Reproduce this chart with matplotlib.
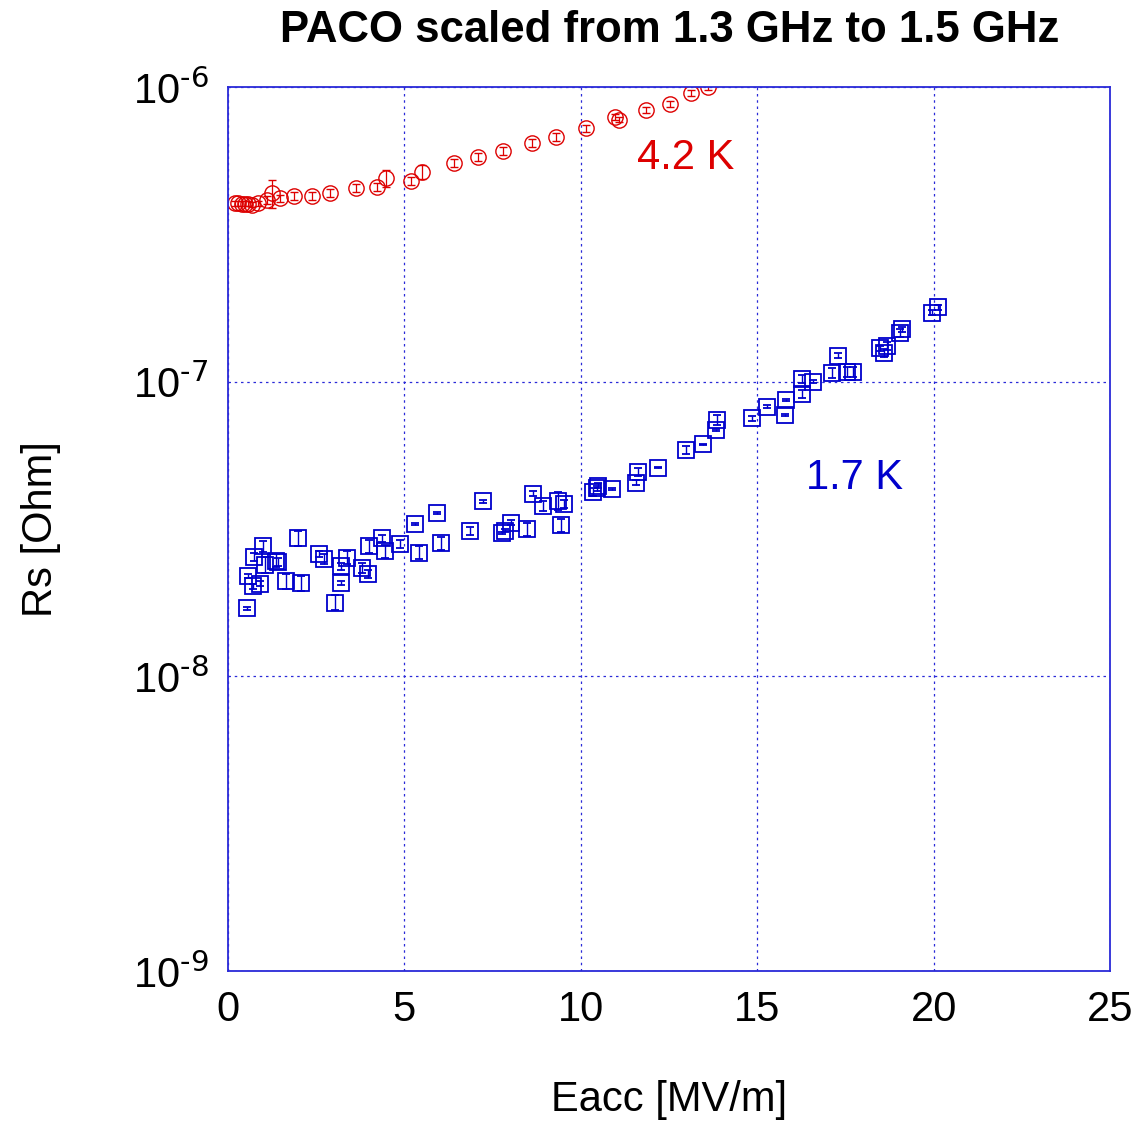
import numpy as np
import matplotlib
matplotlib.use("Agg")
import matplotlib.pyplot as plt

plt.rcParams['font.family'] = ['Liberation Sans', 'DejaVu Sans']
plt.rcParams['mathtext.default'] = 'regular'

# 4.2 K measurement
eacc_42 = [0.20, 0.29, 0.39, 0.48, 0.58, 0.67, 0.86, 1.10, 1.24, 1.47, 1.87, 2.37,
           2.89, 3.63, 4.21, 4.48, 5.19, 5.51, 6.41, 7.08, 7.79, 8.61, 9.29, 10.14,
           10.97, 11.08, 11.85, 12.53, 13.11, 13.60]
rs_42 = [4.03e-7, 4.03e-7, 4.01e-7, 4.01e-7, 4.01e-7, 3.98e-7, 4.03e-7, 4.14e-7,
         4.36e-7, 4.19e-7, 4.27e-7, 4.27e-7, 4.36e-7, 4.55e-7, 4.59e-7, 4.90e-7,
         4.81e-7, 5.16e-7, 5.51e-7, 5.80e-7, 6.07e-7, 6.47e-7, 6.78e-7, 7.24e-7,
         7.91e-7, 7.73e-7, 8.35e-7, 8.76e-7, 9.52e-7, 1.00e-6]
relerr_42 = [0.02, 0.02, 0.02, 0.02, 0.02, 0.02, 0.02, 0.03, 0.11, 0.03, 0.03, 0.03,
             0.03, 0.03, 0.03, 0.065, 0.03, 0.056, 0.03, 0.03, 0.03, 0.03, 0.03, 0.03,
             0.02, 0.02, 0.025, 0.025, 0.025, 0.025]

# 1.7 K measurement
eacc_17 = [0.547, 0.567, 0.709, 0.899, 0.737, 0.992, 1.040, 1.369, 1.417, 1.984,
           1.652, 2.078, 2.579, 2.713, 3.194, 3.381, 3.194, 3.024, 3.807, 3.968,
           3.997, 4.365, 4.442, 4.867, 5.414, 5.292, 6.046, 5.915, 7.219, 6.859,
           7.758, 7.851, 8.013, 8.483, 8.637, 8.920, 9.362, 9.524, 9.430, 10.354,
           10.451, 10.496, 10.876, 11.565, 11.621, 12.197, 12.973, 13.472, 13.832,
           13.869, 14.844, 15.269, 15.808, 15.788, 16.261, 16.261, 16.590, 17.112,
           17.299, 17.537, 17.724, 18.481, 18.594, 18.671, 19.048, 19.096, 19.946,
           20.133]
rs_17 = [1.70e-8, 2.19e-8, 2.02e-8, 2.06e-8, 2.54e-8, 2.76e-8, 2.39e-8, 2.47e-8,
         2.45e-8, 2.94e-8, 2.10e-8, 2.07e-8, 2.60e-8, 2.50e-8, 2.36e-8, 2.53e-8,
         2.08e-8, 1.78e-8, 2.33e-8, 2.22e-8, 2.76e-8, 2.94e-8, 2.66e-8, 2.81e-8,
         2.63e-8, 3.29e-8, 2.83e-8, 3.58e-8, 3.92e-8, 3.12e-8, 3.06e-8, 3.12e-8,
         3.32e-8, 3.16e-8, 4.16e-8, 3.79e-8, 3.95e-8, 3.84e-8, 3.26e-8, 4.23e-8,
         4.35e-8, 4.43e-8, 4.32e-8, 4.54e-8, 4.95e-8, 5.11e-8, 5.86e-8, 6.13e-8,
         6.86e-8, 7.41e-8, 7.51e-8, 8.22e-8, 8.67e-8, 7.71e-8, 9.06e-8, 1.02e-7,
         1.00e-7, 1.068e-7, 1.223e-7, 1.081e-7, 1.081e-7, 1.298e-7, 1.254e-7,
         1.322e-7, 1.466e-7, 1.506e-7, 1.714e-7, 1.788e-7]
relerr_17 = [0.01, 0.015, 0.02, 0.02, 0.03, 0.04, 0.06, 0.05, 0.03, 0.06, 0.06, 0.06,
             0.02, 0.04, 0.03, 0.05, 0.015, 0.06, 0.04, 0.03, 0.05, 0.03, 0.05, 0.03,
             0.05, 0.005, 0.05, 0.005, 0.01, 0.03, 0.01, 0.01, 0.02, 0.05, 0.02, 0.04,
             0.07, 0.03, 0.05, 0.03, 0.02, 0.02, 0.005, 0.02, 0.03, 0.005, 0.03, 0.005,
             0.005, 0.04, 0.02, 0.01, 0.005, 0.005, 0.03, 0.03, 0.01, 0.04, 0.02, 0.04,
             0.04, 0.02, 0.03, 0.03, 0.03, 0.02, 0.02, 0.02]

x_ticks = [0, 5, 10, 15, 20, 25]
y_ticks = [1e-9, 1e-8, 1e-7, 1e-6]
y_ticklabels = [r'$10^{\text{-9}}$', r'$10^{\text{-8}}$', r'$10^{\text{-7}}$', r'$10^{\text{-6}}$']

RED = '#dd0000'
BLUE = '#0000cc'
FRAME = '#2a2ad8'

fig = plt.figure(figsize=(11.39, 11.25), dpi=100)
ax = fig.add_axes([0.2002, 0.1369, 0.7743, 0.7858])

ax.errorbar(eacc_42, rs_42, yerr=np.array(relerr_42) * np.array(rs_42),
            fmt='o', ms=11, mfc='none', mec=RED, mew=1.0,
            ecolor=RED, elinewidth=0.9, capsize=3, capthick=0.9)
ax.errorbar(eacc_17, rs_17, yerr=np.array(relerr_17) * np.array(rs_17),
            fmt='s', ms=11, mfc='none', mec=BLUE, mew=1.3,
            ecolor=BLUE, elinewidth=1.0, capsize=3, capthick=1.0)

ax.set_yscale('log')
ax.set_xlim(0, 25)
ax.set_ylim(1e-9, 1e-6)
ax.set_xticks(x_ticks)
ax.set_xticklabels([str(t) for t in x_ticks])
ax.set_yticks(y_ticks)
ax.set_yticklabels(y_ticklabels)
ax.yaxis.set_minor_locator(matplotlib.ticker.NullLocator())
ax.tick_params(axis='both', length=0, labelsize=30, pad=14)

ax.grid(True, color=FRAME, linestyle=(0, (2, 3)), linewidth=0.9)
for sp in ax.spines.values():
    sp.set_color(FRAME)
    sp.set_linewidth(1.3)

ax.text(12.98, 5.74e-7, '4.2 K', color=RED, fontsize=30, ha='center', va='center')
ax.text(17.77, 4.71e-8, '1.7 K', color=BLUE, fontsize=30, ha='center', va='center')

ax.set_xlabel('Eacc [MV/m]', fontsize=30, labelpad=36)
ax.set_ylabel('Rs [Ohm]', fontsize=30, labelpad=52)
fig.text(0.588, 0.973, 'PACO scaled from 1.3 GHz to 1.5 GHz', fontsize=31.5,
         fontweight='bold', ha='center', va='center')

fig.savefig('out.png', dpi=100)
